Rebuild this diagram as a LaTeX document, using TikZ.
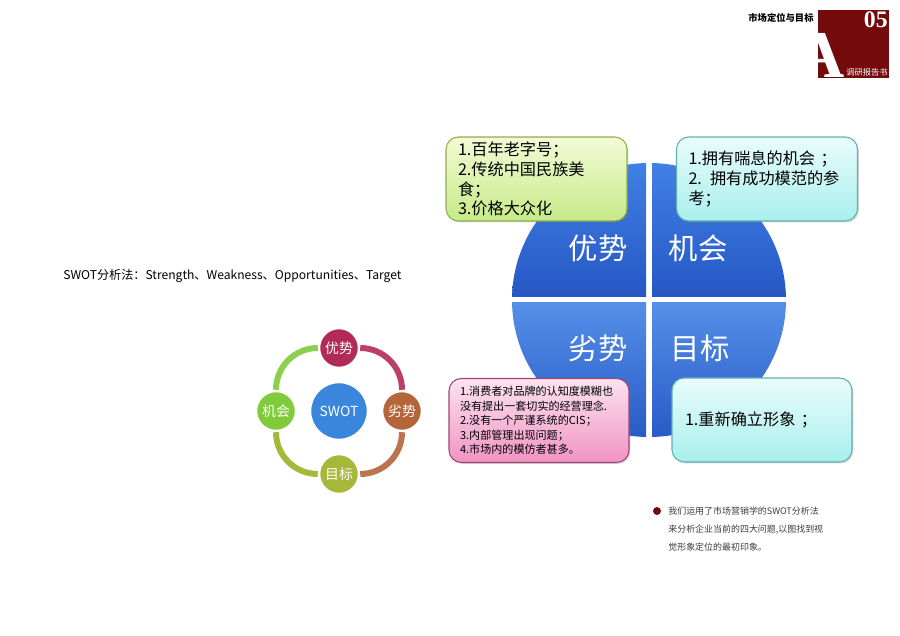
\documentclass[tikz,border=0pt]{standalone}
\usepackage{fontspec}
\setmainfont{Noto Sans CJK SC}
\newfontfamily\tnr{Liberation Serif}
\usetikzlibrary{shadows}
\definecolor{headred}{HTML}{730A0C}
\definecolor{notegray}{HTML}{3C3C3C}
\definecolor{youshi}{HTML}{B22A58}
\definecolor{lieshi}{HTML}{B5653A}
\definecolor{mubiao}{HTML}{A6B83A}
\definecolor{jihui}{HTML}{80CB3C}
\definecolor{swotblue}{HTML}{3A86DC}
\definecolor{pietop}{HTML}{4282E6}
\definecolor{piebot}{HTML}{2657C4}
\definecolor{greenline}{HTML}{8FAE4A}
\definecolor{greentop}{HTML}{F3FBD6}
\definecolor{greenbot}{HTML}{C6EA88}
\definecolor{cyanline}{HTML}{5FAFB0}
\definecolor{cyantop}{HTML}{E9FCFC}
\definecolor{cyanbot}{HTML}{A8EFEC}
\definecolor{pinkline}{HTML}{9E4470}
\definecolor{pinktop}{HTML}{FCE3EF}
\definecolor{pinkbot}{HTML}{F094C3}

\begin{document}
\begin{tikzpicture}[x=0.02cm,y=0.02cm,
  infobox/.style={rounded corners=7pt,line width=0.6pt,minimum width=3.62cm,minimum height=1.68cm,
    inner sep=0pt,align=left,drop shadow={opacity=0.3,shadow xshift=0.8pt,shadow yshift=-0.8pt}},
  greenbox/.style={infobox,draw=greenline,top color=greentop,bottom color=greenbot},
  cyanbox/.style={infobox,draw=cyanline,top color=cyantop,bottom color=cyanbot},
  pinkbox/.style={infobox,draw=pinkline,top color=pinktop,bottom color=pinkbot},
  bigtext/.style={font=\fontsize{9.2}{11.3}\selectfont},
  pielabel/.style={text=white,inner sep=0pt,font=\fontsize{16.7}{18}\selectfont},
  swotball/.style={circle,fill=#1,draw=white,line width=1.4pt,minimum size=0.8cm,inner sep=0pt,
    text=white,font=\fontsize{7.9}{9}\selectfont},
  ringarc/.style={draw=#1,line width=3.4pt},
]
  \useasboundingbox (0,0) rectangle (900,636);

  % header
  \node[font=\bfseries\fontsize{5.3}{6}\selectfont] (ttl) at (781,618) {市场定位与目标};
  \fill[headred] (818,558) rectangle (889,626);
  \node[anchor=base east,inner sep=0pt,text=white,font=\tnr\bfseries\fontsize{13.5}{14}\selectfont] (num) at (888,608) {05};
  \node[anchor=base east,inner sep=0pt,text=white,font=\tnr\bfseries\fontsize{38}{40}\selectfont] (bigA) at (845,558) {A};
  \node[text=white,inner sep=0pt,font=\fontsize{4.7}{5}\selectfont] (rpt) at (867,563.5) {调研报告书};

  \node[anchor=west,inner sep=0pt,font=\fontsize{6.9}{8}\selectfont] (method) at (63,360)
    {SWOT分析法：Strength、Weakness、Opportunities、Target};

  % small swot ring
  \node[swotball=swotblue,minimum size=1.16cm] (swot) at (339,225) {SWOT};
  \node[swotball=youshi] (you) at (339,288) {优势};
  \node[swotball=lieshi] (lie) at (402,225) {劣势};
  \node[swotball=mubiao] (mu) at (339,162) {目标};
  \node[swotball=jihui] (ji) at (276,225) {机会};
  \draw[ringarc=youshi!90!white] (you) to[bend left=45] (lie);
  \draw[ringarc=lieshi!90!white] (lie) to[bend left=45] (mu);
  \draw[ringarc=mubiao!90!jihui] (mu) to[bend left=45] (ji);
  \draw[ringarc=jihui!90!white] (ji) to[bend left=45] (you);

  % big pie
  \coordinate (pc) at (649,336);
  \begin{scope}
    \clip (pc) circle (137);
    \shade[top color=pietop,bottom color=piebot] (500,339) rectangle (646,480);
    \shade[top color=pietop,bottom color=piebot] (652,339) rectangle (800,480);
    \shade[top color=pietop!90!white,bottom color=piebot] (500,190) rectangle (646,333);
    \shade[top color=pietop!90!white,bottom color=piebot] (652,190) rectangle (800,333);
  \end{scope}
  \node[pielabel] (pys) at (598,388) {优势};
  \node[pielabel] (pjh) at (698,388) {机会};
  \node[pielabel] (pls) at (598,288) {劣势};
  \node[pielabel] (pmb) at (700,288) {目标};

  \node[greenbox,text width=3.14cm,bigtext] (s) at (536.5,457)
    {1.百年老字号；\\2.传统中国民族美\\食；\\3.价格大众化};
  \node[cyanbox,text width=3.14cm,bigtext] (o) at (767,457)
    {1.拥有喘息的机会 ；\\2. 拥有成功模范的参\\考；};
  \node[pinkbox,minimum width=3.6cm,text width=3.16cm,font=\fontsize{6.3}{8.2}\selectfont] (w) at (539,215.5)
    {1.消费者对品牌的认知度模糊也\\没有提出一套切实的经营理念.\\2.没有一个严谨系统的CIS；\\3.内部管理出现问题；\\4.市场内的模仿者甚多。};
  \node[cyanbox,minimum width=3.6cm,text width=3.08cm,bigtext] (t) at (762,216)
    {1.重新确立形象 ；};

  % note
  \node[circle,fill=headred,minimum size=0.16cm,inner sep=0pt] (dot) at (657,125) {};
  \node[anchor=west,align=left,inner sep=0pt,text=notegray,font=\fontsize{5.1}{10.2}\selectfont] (note) at (668,107.3)
    {我们运用了市场营销学的SWOT分析法\\来分析企业当前的四大问题,以图找到视\\觉形象定位的最初印象。};
\end{tikzpicture}
\end{document}
